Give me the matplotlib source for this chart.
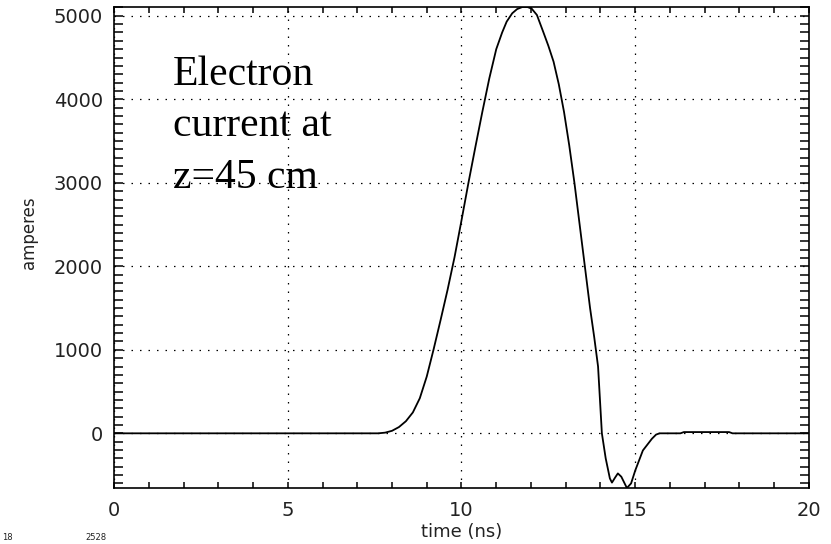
import matplotlib
matplotlib.use("Agg")
import matplotlib.pyplot as plt
from matplotlib.ticker import MultipleLocator

# electron current trace (time in ns, current in amperes)
t_ns = [0.0, 7.6, 7.8, 8.0, 8.2, 8.4, 8.6, 8.8, 9.0, 9.2, 9.4, 9.6, 9.8,
        10.0, 10.2, 10.4, 10.6, 10.8, 11.0, 11.17, 11.3, 11.46, 11.6, 11.75,
        11.9, 12.02, 12.17, 12.35, 12.5, 12.65, 12.8, 12.95, 13.1, 13.25, 13.4,
        13.55, 13.7, 13.82, 13.93, 14.04, 14.15, 14.27, 14.33, 14.42, 14.5,
        14.6, 14.76, 14.88, 15.0, 15.22, 15.48, 15.6, 15.7, 16.3, 16.4, 17.7,
        17.8, 20.0]
amps = [0, 0, 8, 30, 75, 145, 250, 420, 680, 1010, 1360, 1720, 2110,
        2550, 3000, 3430, 3850, 4250, 4600, 4800, 4930, 5030, 5080, 5105,
        5105, 5085, 5010, 4810, 4640, 4450, 4180, 3850, 3450, 3000, 2500,
        2000, 1500, 1150, 800, 0, -300, -540, -590, -530, -480,
        -520, -655, -600, -445, -205, -65, -15, 0, 0, 15, 15,
        0, 0]

label_lines = ["Electron", "current at", "z=45 cm"]
label_base = [4170, 3560, 2940]

fig = plt.figure(figsize=(8.31, 5.44), dpi=100)
ax = fig.add_axes([0.1372, 0.1029, 0.8363, 0.8842])

ax.plot(t_ns, amps, color="black", lw=1.3)

ax.set_xlim(0, 20)
ax.set_ylim(min(amps), max(amps))
ax.xaxis.set_major_locator(MultipleLocator(5))
ax.xaxis.set_minor_locator(MultipleLocator(1))
ax.yaxis.set_major_locator(MultipleLocator(1000))
ax.yaxis.set_minor_locator(MultipleLocator(100))

ax.grid(True, which="major", color="black", lw=0.9, ls=(0, (1.2, 5.6)))

for s in ax.spines.values():
    s.set_linewidth(1.2)

ax.tick_params(axis="x", which="both", direction="in", top=True, length=4.5,
               width=1.1, pad=9, labelsize=14, labelcolor="#222222")
ax.tick_params(axis="y", which="both", direction="in", right=True, length=6.5,
               width=1.1, pad=8, labelsize=14, labelcolor="#222222")

ax.set_xlabel("time (ns)", fontsize=13, color="#222222")
ax.xaxis.set_label_coords(0.5, -0.072)
ax.set_ylabel("amperes", fontsize=12, color="#222222")
ax.yaxis.set_label_coords(-0.11, 0.53)

for line, yb in zip(label_lines, label_base):
    ax.text(1.7, yb, line, family="Liberation Serif", fontsize=30,
            va="baseline", ha="left")

# small footer text along the bottom edge
fig.text(0.002, 0.003, "18", fontsize=6, va="bottom", ha="left", color="#222222")
fig.text(0.103, 0.003, "2528", fontsize=6, va="bottom", ha="left", color="#222222")

fig.savefig("out.png", dpi=100)
